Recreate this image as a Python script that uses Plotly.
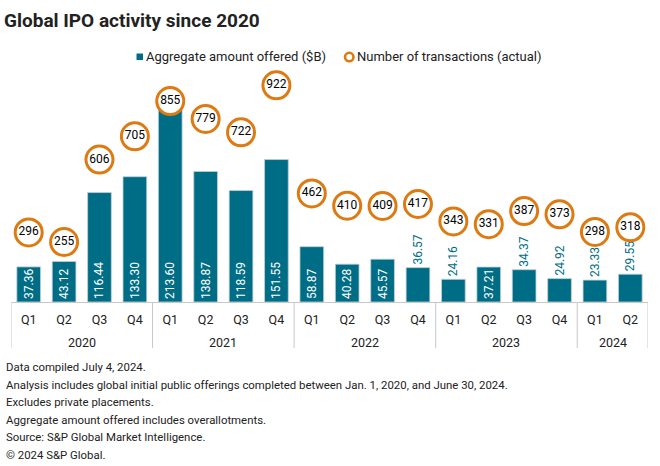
import plotly.graph_objects as go

years = ["2020"] * 4 + ["2021"] * 4 + ["2022"] * 4 + ["2023"] * 4 + ["2024"] * 2
quarters = ["Q1", "Q2", "Q3", "Q4"] * 4 + ["Q1", "Q2"]
amount = [37.36, 43.12, 116.44, 133.30, 213.60, 138.87, 118.59, 151.55,
          58.87, 40.28, 45.57, 36.57, 24.16, 37.21, 34.37, 24.92, 23.33, 29.55]
transactions = [296, 255, 606, 705, 855, 779, 722, 922,
                462, 410, 409, 417, 343, 331, 387, 373, 298, 318]
label_pos = ["inside"] * 11 + ["outside", "outside", "inside", "outside", "outside", "outside", "outside"]

footnotes = [
    "Data compiled July 4, 2024.",
    "Analysis includes global initial public offerings completed between Jan. 1, 2020, and June 30, 2024.",
    "Excludes private placements.",
    "Aggregate amount offered includes overallotments.",
    "Source: S&P Global Market Intelligence.",
    "\u00a9 2024 S&P Global.",
]
bar_name = "Aggregate amount offered ($B)"
dot_name = "Number of transactions (actual)"

TEAL = "#006D86"
ORANGE = "#DD7A12"
GRID = "#c8c8c8"
FONT = "Roboto"
TXT = "#222222"

W, H = 660, 466
L, R, T, B = 11, 12, 67, 164
PW, PH = W - L - R, H - T - B


def px(xp):
    return (xp - L) / PW


def py(yp):
    return (H - B - yp) / PH


cats = [f"{y} {q}" for y, q in zip(years, quarters)]

fig = go.Figure()
fig.add_trace(go.Bar(
    x=cats, y=amount, name=bar_name,
    marker=dict(color=TEAL, line=dict(color="#c3d0d6", width=0.8)),
    text=[f"{v:.2f}" for v in amount], textposition=label_pos,
    textangle=-90, insidetextanchor="start", constraintext="none",
    insidetextfont=dict(color="white", size=12, family=FONT),
    outsidetextfont=dict(color=TEAL, size=12, family=FONT),
    cliponaxis=False,
))
fig.add_trace(go.Scatter(
    x=cats, y=transactions, yaxis="y2", mode="markers", name=dot_name,
    marker=dict(size=27, color="white", line=dict(color=ORANGE, width=3)),
    cliponaxis=False,
))
fig.add_trace(go.Scatter(
    x=cats, y=transactions, yaxis="y2", mode="text", showlegend=False,
    text=[str(v) for v in transactions], textposition="middle center",
    textfont=dict(color="black", size=12, family=FONT),
    cliponaxis=False,
))

# year group labels and dividers
groups = []
for i, y in enumerate(years):
    if not groups or groups[-1][0] != y:
        groups.append([y, i, i])
    else:
        groups[-1][2] = i
for y, s, e in groups:
    fig.add_annotation(text=y, xref="x", yref="paper", x=(s + e) / 2, y=py(342),
                       showarrow=False, xanchor="center", yanchor="middle",
                       font=dict(size=12.5, family=FONT, color=TXT))
    fig.add_shape(type="line", xref="x", yref="paper", x0=s - 0.5, x1=s - 0.5, y0=0, y1=py(348),
                  line=dict(color=GRID, width=1))
fig.add_shape(type="line", xref="x", yref="paper", x0=len(years) - 0.5, x1=len(years) - 0.5,
              y0=0, y1=py(348), line=dict(color=GRID, width=1))

# custom legend
fig.add_shape(type="rect", xref="paper", yref="paper", x0=px(136.5), x1=px(143), y0=py(53.5), y1=py(60),
              fillcolor=TEAL, line=dict(width=0))
fig.add_annotation(text=bar_name, xref="paper", yref="paper", x=px(144), y=py(56.5),
                   showarrow=False, xanchor="left", yanchor="middle",
                   font=dict(size=13, family=FONT, color=TXT))
fig.add_shape(type="circle", xref="paper", yref="paper", x0=px(345), x1=px(353.5), y0=py(52.8), y1=py(61.3),
              fillcolor="white", line=dict(color=ORANGE, width=2.6))
fig.add_annotation(text=dot_name, xref="paper", yref="paper", x=px(355), y=py(56.5),
                   showarrow=False, xanchor="left", yanchor="middle",
                   font=dict(size=13, family=FONT, color=TXT))

for i, line in enumerate(footnotes):
    fig.add_annotation(
        text=line, xref="paper", yref="paper", x=px(4), y=py(367 + i * 17.6),
        xanchor="left", yanchor="middle", showarrow=False,
        font=dict(size=11.4, family=FONT, color=TXT),
    )

fig.update_layout(
    width=W, height=H,
    margin=dict(l=L, r=R, t=T, b=B, autoexpand=False),
    paper_bgcolor="white", plot_bgcolor="white",
    font=dict(family=FONT, size=12, color=TXT),
    title=dict(text="<b>Global IPO activity since 2020</b>", x=4 / W, xanchor="left",
               y=1 - 20 / H, yanchor="middle", font=dict(size=19, family=FONT, color=TXT)),
    bargap=0.33,
    showlegend=False,
    xaxis=dict(type="category", range=[-0.5, len(cats) - 0.5], tickvals=cats, ticktext=quarters,
               showline=True, linecolor=GRID, linewidth=1, automargin=False,
               tickfont=dict(size=12.5, family=FONT, color=TXT), ticks="", ticklabelstandoff=6,
               showgrid=False, fixedrange=True),
    yaxis=dict(range=[0, 250], visible=False, showgrid=False, automargin=False),
    yaxis2=dict(range=[0, 1000], overlaying="y", visible=False, showgrid=False, automargin=False),
)

fig.write_html("out.html", config={"displayModeBar": False},
               post_script="document.body.style.margin='0';")
